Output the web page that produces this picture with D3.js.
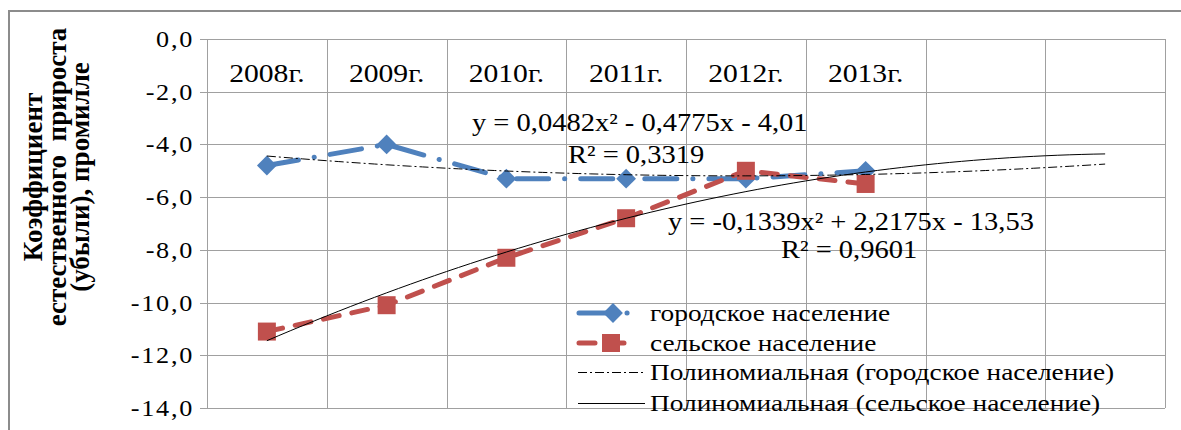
<!DOCTYPE html>
<meta charset="utf-8">
<style>
body { margin: 0; background: #fff; }
svg text { font-family: "Liberation Serif", "Times New Roman", serif; fill: #000; }
.grid line { stroke: #a0a0a0; stroke-width: 1; }
</style>
<svg width="1181" height="430"></svg>
<script src="https://d3js.org/d3.v7.min.js"></script>
<script>

// data
var years = ["2008г.", "2009г.", "2010г.", "2011г.", "2012г.", "2013г."];
var forecast = 2;   // trend lines run two periods past the data
var urban = [-4.8, -4.0, -5.3, -5.3, -5.3, -5.0];
var rural = [-11.1, -10.1, -8.3, -6.8, -5.0, -5.5];
// trend coefficients as printed on the chart: a*x^2 + b*x + c
var urbanTrend = [0.0482, -0.4775, -4.01];
var ruralTrend = [-0.1339, 2.2175, -13.53];
var yTicks = [0, -2, -4, -6, -8, -10, -12, -14];

var seriesNames = ["городское население", "сельское население",
  "Полиномиальная (городское население)", "Полиномиальная (сельское население)"];
var yTitle = ["Коэффициент", "естественного  прироста", "(убыли), промилле"];
var eqUrban = ["y = 0,0482x² - 0,4775x - 4,01", "R² = 0,3319"];
var eqRural = ["y = -0,1339x² + 2,2175x - 13,53", "R² = 0,9601"];

var blue = "#4f81bd", red = "#c0504d";
var SX = 1.14;  // the original text is a little wider than Liberation Serif

var svg = d3.select("svg");

// outer chart border (cut off at right/bottom like the original)
svg.append("rect")
    .attr("x", 9).attr("y", 11)
    .attr("width", 1190).attr("height", 440)
    .attr("fill", "none").attr("stroke", "#8c8c8c").attr("stroke-width", 2);

var pLeft = 207, pRight = 1165, pTop = 39, pBottom = 408;
var nCols = years.length + forecast;

var x = d3.scaleLinear().domain([0.5, nCols + 0.5]).range([pLeft, pRight]);
var y = d3.scaleLinear().domain([0, -14]).range([pTop, pBottom]);

var locale = d3.formatLocale({decimal: ",", thousands: " ", grouping: [3], currency: ["", ""], minus: "-"});
var fmt = locale.format(".1f");

function place(px, py) { return "translate(" + px + "," + py + ") scale(" + SX + ",1)"; }

// horizontal grid
var grid = svg.append("g").attr("class", "grid");
grid.selectAll(".h").data(yTicks).enter().append("line")
    .attr("x1", pLeft - 7).attr("x2", pRight)
    .attr("y1", function(d) { return Math.round(y(d)) + 0.5; })
    .attr("y2", function(d) { return Math.round(y(d)) + 0.5; });

// vertical grid between categories
grid.selectAll(".v").data(d3.range(0, nCols + 1)).enter().append("line")
    .attr("x1", function(d) { return Math.round(x(d + 0.5)) + 0.5; })
    .attr("x2", function(d) { return Math.round(x(d + 0.5)) + 0.5; })
    .attr("y1", pTop).attr("y2", pBottom);

// y tick labels
svg.append("g").selectAll("text").data(yTicks).enter().append("text")
    .attr("transform", function(d) { return place(194, y(d)); })
    .attr("dy", "0.35em")
    .attr("text-anchor", "end")
    .style("font-size", "23px")
    .style("letter-spacing", "1.5px")
    .text(function(d) { return fmt(d); });

// category labels sit under the axis at 0
svg.append("g").selectAll("text").data(years).enter().append("text")
    .attr("transform", function(d, i) { return place(x(i + 1), 82); })
    .attr("text-anchor", "middle")
    .style("font-size", "26px")
    .text(function(d) { return d; });

// y axis title, rotated
var yt = svg.append("text")
    .attr("transform", "translate(4,177) rotate(-90)")
    .attr("text-anchor", "middle")
    .style("font-size", "27px")
    .style("font-weight", "bold")
    .style("white-space", "pre");
yt.selectAll("tspan").data(yTitle).enter().append("tspan")
    .attr("x", 0)
    .attr("y", function(d, i) { return 38 + i * 23.5; })
    .text(function(d) { return d; });

var line = d3.line()
    .x(function(d, i) { return x(i + 1); })
    .y(function(d) { return y(d); });

function poly(c, t) { return c[0] * t * t + c[1] * t + c[2]; }

var sq = d3.symbol().type(d3.symbolSquare);
var diamondSize = 196, squareSize = 324;

// urban series
svg.append("path").datum(urban)
    .attr("d", line)
    .attr("fill", "none").attr("stroke", blue).attr("stroke-width", 5)
    .attr("stroke-linecap", "round")
    .attr("stroke-dasharray", "32,16,0.1,16");
svg.append("g").selectAll("path").data(urban).enter().append("path")
    .attr("d", sq.size(diamondSize)())
    .attr("transform", function(d, i) { return "translate(" + x(i + 1) + "," + y(d) + ") rotate(45)"; })
    .attr("fill", blue);

// rural series
svg.append("path").datum(rural)
    .attr("d", line)
    .attr("fill", "none").attr("stroke", red).attr("stroke-width", 5)
    .attr("stroke-linecap", "round")
    .attr("stroke-dasharray", "16,13");
svg.append("g").selectAll("path").data(rural).enter().append("path")
    .attr("d", sq.size(squareSize)())
    .attr("transform", function(d, i) { return "translate(" + x(i + 1) + "," + y(d) + ")"; })
    .attr("fill", red);

// polynomial trend lines, sampled along the category axis
var tSteps = d3.range(1, nCols + 0.001, 0.1);
var trendLine = d3.line()
    .x(function(d) { return x(d[0]); })
    .y(function(d) { return y(d[1]); })
    .curve(d3.curveMonotoneX);

svg.append("path")
    .datum(tSteps.map(function(t) { return [t, poly(urbanTrend, t)]; }))
    .attr("d", trendLine)
    .attr("fill", "none").attr("stroke", "#000").attr("stroke-width", 1)
    .attr("stroke-dasharray", "9,3,2,3");
svg.append("path")
    .datum(tSteps.map(function(t) { return [t, poly(ruralTrend, t)]; }))
    .attr("d", trendLine)
    .attr("fill", "none").attr("stroke", "#000").attr("stroke-width", 1);

// trend equations
function eqLabel(lines, pos) {
  svg.append("g").selectAll("text").data(lines).enter().append("text")
      .attr("transform", function(d, i) { return place(pos[i][0], pos[i][1]); })
      .style("font-size", "25px")
      .text(function(d) { return d; });
}
eqLabel(eqUrban, [[472, 131], [568, 163]]);
eqLabel(eqRural, [[668, 230], [781, 258]]);

// legend
var lg = svg.append("g");
var rows = [313, 343, 372, 403];

lg.append("line").attr("x1", 579).attr("x2", 634).attr("y1", rows[0]).attr("y2", rows[0])
    .attr("stroke", blue).attr("stroke-width", 5).attr("stroke-linecap", "round")
    .attr("stroke-dasharray", "32,16,0.1,16");
lg.append("path").attr("d", sq.size(diamondSize)())
    .attr("transform", "translate(613," + rows[0] + ") rotate(45)").attr("fill", blue);

lg.append("line").attr("x1", 579).attr("x2", 628).attr("y1", rows[1]).attr("y2", rows[1])
    .attr("stroke", red).attr("stroke-width", 5).attr("stroke-linecap", "round")
    .attr("stroke-dasharray", "16,13");
lg.append("path").attr("d", sq.size(squareSize)())
    .attr("transform", "translate(611," + rows[1] + ")").attr("fill", red);

lg.append("line").attr("x1", 578).attr("x2", 645).attr("y1", rows[2] + 0.5).attr("y2", rows[2] + 0.5)
    .attr("stroke", "#000").attr("stroke-width", 1).attr("stroke-dasharray", "9,3,2,3");
lg.append("line").attr("x1", 578).attr("x2", 645).attr("y1", rows[3] + 0.5).attr("y2", rows[3] + 0.5)
    .attr("stroke", "#000").attr("stroke-width", 1);

lg.selectAll("text").data(seriesNames).enter().append("text")
    .attr("transform", function(d, i) { return place(650, rows[i] + 8); })
    .style("font-size", "24px")
    .text(function(d) { return d; });

</script>
